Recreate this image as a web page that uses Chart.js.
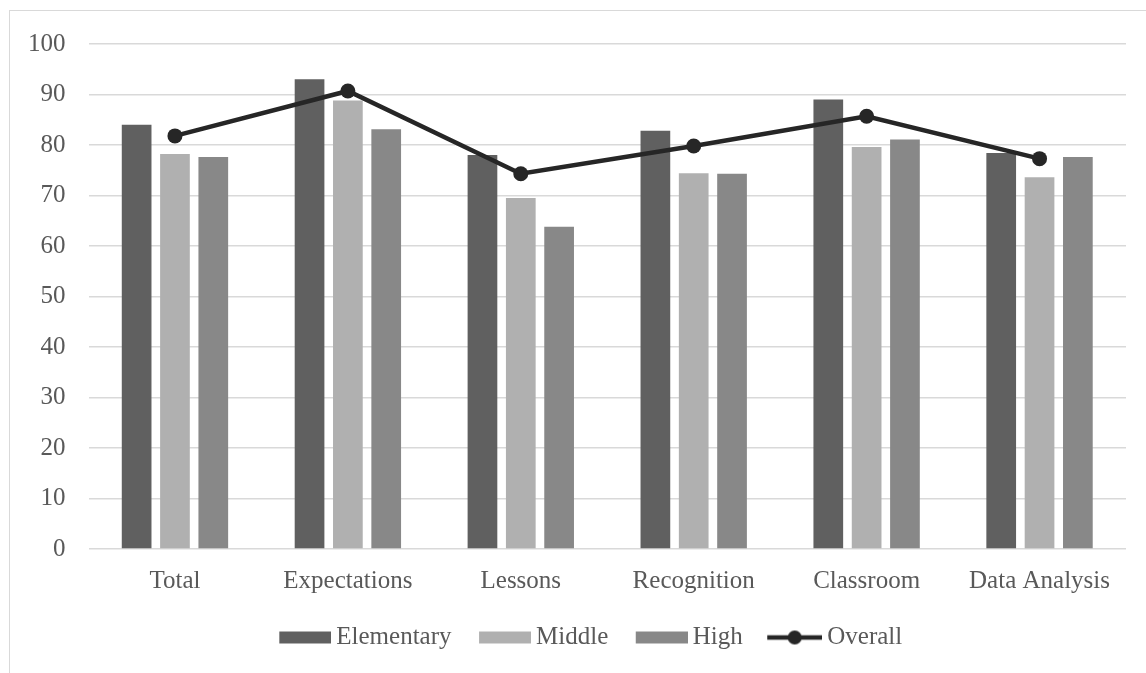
<!DOCTYPE html>
<html>
<head>
<meta charset="UTF-8">
<title>Scores by level</title>
<script src="https://cdn.jsdelivr.net/npm/chart.js"></script>
<style>
  html, body { margin: 0; padding: 0; background: #fff; overflow: hidden; }
  /* thin frame around the chart, runs off the right/bottom edge */
  #frame { position: absolute; left: 9px; top: 10px; width: 1200px; height: 700px;
           border-left: 1px solid #d9d9d9; border-top: 1px solid #d9d9d9; }
  #wrap { position: absolute; left: 0; top: 0; width: 1146px; height: 660px; }
</style>
</head>
<body>
<div id="frame"></div>
<div id="wrap"><canvas id="levelChart"></canvas></div>

<script>
    // data
    const categories = ['Total', 'Expectations', 'Lessons', 'Recognition', 'Classroom', 'Data Analysis'];
    const elementary = [84.0, 93.0, 78.0, 82.8, 89.0, 78.4];
    const middle     = [78.2, 88.8, 69.5, 74.4, 79.6, 73.6];
    const high       = [77.6, 83.1, 63.8, 74.3, 81.1, 77.6];
    const overall    = [81.8, 90.7, 74.3, 79.8, 85.7, 77.3];
    const yTicks     = [0, 10, 20, 30, 40, 50, 60, 70, 80, 90, 100];

    const textColor = '#595959';
    const gridColor = '#d9d9d9';

    // legend markers as small images (box or line with dot)
    function swatch(color, isLine) {
        const c = document.createElement('canvas');
        c.width = 60;
        c.height = 16;
        const g = c.getContext('2d');
        if (isLine) {
            g.strokeStyle = color;
            g.lineWidth = 4.5;
            g.beginPath();
            g.moveTo(5, 8);
            g.lineTo(60, 8);
            g.stroke();
            g.fillStyle = color;
            g.beginPath();
            g.arc(32.5, 8, 7, 0, Math.PI * 2);
            g.fill();
        } else {
            g.fillStyle = color;
            g.fillRect(8, 2, 52, 12);
        }
        return c;
    }

    const datasets = [
        { label: 'Elementary', data: elementary, backgroundColor: '#606060', order: 2 },
        { label: 'Middle', data: middle, backgroundColor: '#b0b0b0', order: 2 },
        { label: 'High', data: high, backgroundColor: '#888888', order: 2 },
        {
            type: 'line', label: 'Overall', data: overall,
            borderColor: '#262626', backgroundColor: '#262626',
            borderWidth: 4.5, pointRadius: 7.5, pointBorderWidth: 0,
            pointBackgroundColor: '#262626', tension: 0, order: 1
        }
    ];
    const swatches = datasets.map(ds => swatch(ds.backgroundColor, ds.type === 'line'));

    // nudge the legend a bit to the right, like the original
    const legendShift = {
        id: 'legendShift',
        afterLayout(chart) {
            chart.legend.left += 25;
            chart.legend.right += 25;
        }
    };

    Chart.defaults.font.family = "'Liberation Serif', 'Times New Roman', serif";
    Chart.defaults.font.size = 25;
    Chart.defaults.color = textColor;

    const ctx = document.getElementById('levelChart').getContext('2d');
    new Chart(ctx, {
        type: 'bar',
        data: {
            labels: categories,
            datasets: datasets.map(ds => Object.assign({ barPercentage: 0.775, categoryPercentage: 0.665 }, ds))
        },
        options: {
            responsive: true,
            maintainAspectRatio: false,
            animation: false,
            layout: { padding: { left: 5, right: 20, top: 44, bottom: 0 } },
            plugins: {
                tooltip: { enabled: false },
                legend: {
                    position: 'bottom',
                    labels: {
                        usePointStyle: true,
                        pointStyleWidth: 45,
                        padding: 27,
                        color: textColor,
                        font: { size: 25 },
                        generateLabels: chart => chart.data.datasets.map((ds, i) => ({
                            text: ds.label,
                            pointStyle: swatches[i],
                            fillStyle: ds.backgroundColor,
                            strokeStyle: ds.backgroundColor,
                            lineWidth: 0,
                            hidden: !chart.isDatasetVisible(i),
                            datasetIndex: i,
                            fontColor: textColor
                        }))
                    }
                }
            },
            scales: {
                x: {
                    grid: { display: false, drawTicks: false },
                    border: { display: false },
                    ticks: { padding: 17, color: textColor },
                    afterFit: axis => { axis.height -= 15; }
                },
                y: {
                    min: 0,
                    max: 100,
                    afterBuildTicks: axis => { axis.ticks = yTicks.map(v => ({ value: v })); },
                    grid: { color: gridColor, lineWidth: 1.5, drawTicks: false },
                    border: { display: false },
                    ticks: { padding: 23, color: textColor }
                }
            }
        },
        plugins: [legendShift]
    });
</script>
</body>
</html>
